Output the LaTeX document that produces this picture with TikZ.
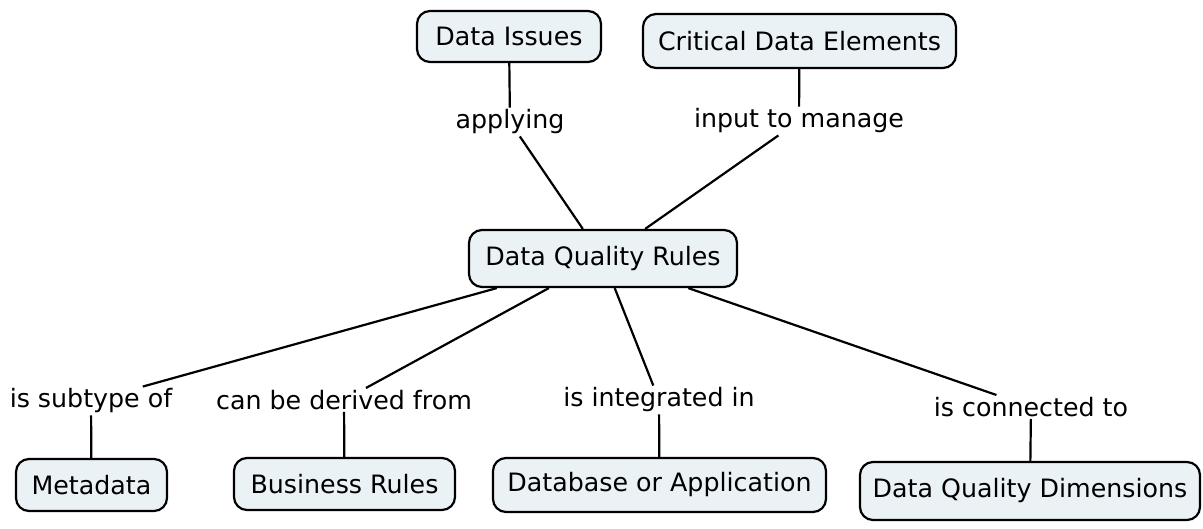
\documentclass[tikz,border=0pt]{standalone}
\usepackage{fontspec}
\setmainfont{DejaVu Sans}
\definecolor{boxfill}{RGB}{235,242,245}
\begin{document}
\begin{tikzpicture}[x=1pt,y=-1pt,
  concept/.style={draw=black,line width=2.2pt,fill=boxfill,rounded corners=13pt,
    inner sep=0pt,font=\fontsize{25.3}{30}\selectfont},
  linklabel/.style={inner sep=2pt,font=\fontsize{25.3}{30}\selectfont},
  conn/.style={line width=2.2pt,draw=black}]
\useasboundingbox (0,0) rectangle (1203,529);
% concepts
\node[concept,minimum width=184pt,minimum height=51pt] (issues) at (509,36.5) {Data Issues};
\node[concept,minimum width=313pt,minimum height=54pt] (cde) at (799.5,41) {Critical Data Elements};
\node[concept,minimum width=268pt,minimum height=57pt] (dqr) at (603,258.5) {Data Quality Rules};
\node[concept,minimum width=151pt,minimum height=52pt] (meta) at (91.5,485) {Metadata};
\node[concept,minimum width=221pt,minimum height=52pt] (br) at (344.5,484) {Business Rules};
\node[concept,minimum width=333pt,minimum height=54pt] (db) at (659.5,485) {Database or Application};
\node[concept,minimum width=340pt,minimum height=58pt] (dims) at (1030,491) {Data Quality Dimensions};
% link labels
\node[linklabel] (l1) at (510,122) {applying};
\node[linklabel] (l2) at (799,121) {input to manage};
\node[linklabel] (l3) at (91,401) {is subtype of};
\node[linklabel] (l4) at (344,400) {can be derived from};
\node[linklabel] (l5) at (659,400) {is integrated in};
\node[linklabel] (l6) at (1031,407) {is connected to};
% connectors
\draw[conn] (issues) -- (l1);
\draw[conn] (l1) -- (dqr);
\draw[conn] (cde) -- (l2);
\draw[conn] (l2) -- (dqr);
\draw[conn] (dqr) -- (l3);
\draw[conn] (l3) -- (meta);
\draw[conn] (dqr) -- (l4);
\draw[conn] (l4) -- (br);
\draw[conn] (dqr) -- (l5);
\draw[conn] (l5) -- (db);
\draw[conn] (dqr) -- (l6);
\draw[conn] (l6) -- (dims);
\end{tikzpicture}
\end{document}
